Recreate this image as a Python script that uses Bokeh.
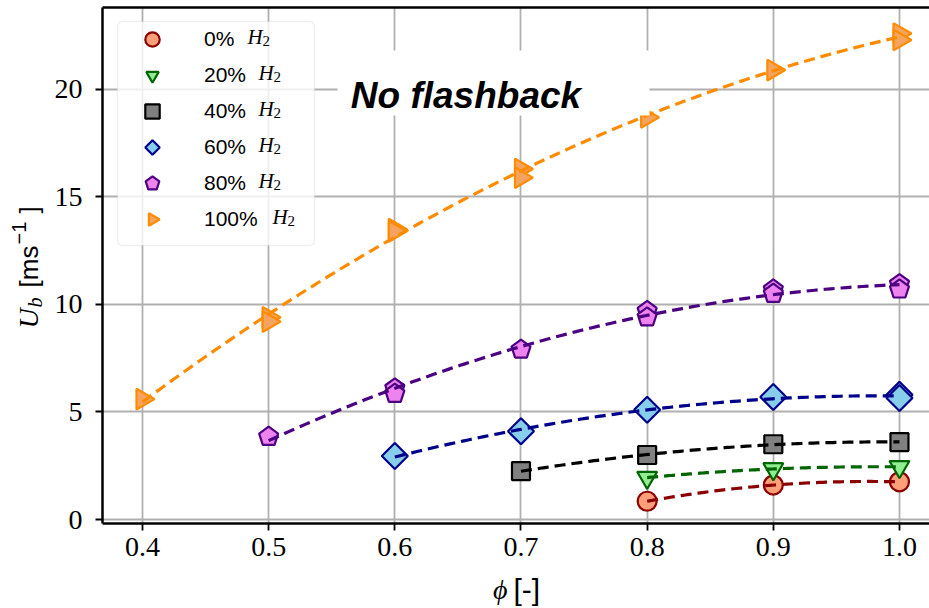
import numpy as np
from bokeh.plotting import figure
from bokeh.layouts import row, column
from bokeh.models import (Range1d, FixedTicker, LinearAxis, Legend, LegendItem,
                          Label, BoxAnnotation)
from bokeh.embed import file_html
from bokeh.resources import INLINE

# ---------------- data ----------------
series_labels = ["0%", "20%", "40%", "60%", "80%", "100%"]
species_symbol = "H"
species_sub = "2"

phi_0 = [0.8, 0.9, 1.0]
ub_0 = [0.85, 1.6, 1.75]

phi_20 = [0.8, 0.9, 1.0]
ub_20 = [1.95, 2.35, 2.45]

phi_40 = [0.7, 0.8, 0.9, 1.0]
ub_40 = [2.25, 3.0, 3.5, 3.6]

phi_60 = [0.6, 0.7, 0.8, 0.9, 1.0, 1.0]
ub_60 = [2.95, 4.1, 5.1, 5.7, 5.8, 5.65]

phi_80 = [0.5, 0.6, 0.6, 0.7, 0.8, 0.8, 0.9, 0.9, 1.0, 1.0]
ub_80 = [3.85, 6.1, 5.85, 7.9, 9.7, 9.4, 10.7, 10.5, 10.95, 10.7]

phi_100 = [0.4, 0.5, 0.5, 0.6, 0.6, 0.7, 0.7, 0.8, 0.9, 1.0, 1.0]
ub_100 = [5.6, 9.4, 9.2, 13.5, 13.4, 16.3, 15.9, 18.7, 20.9, 22.6, 22.3]

x_ticks = [0.4, 0.5, 0.6, 0.7, 0.8, 0.9, 1.0]
x_tick_labels = ["0.4", "0.5", "0.6", "0.7", "0.8", "0.9", "1.0"]
y_ticks = [0, 5, 10, 15, 20]
y_tick_labels = ["0", "5", "10", "15", "20"]

x_label_symbol = "\u03d5"
x_label_unit = "[-]"
y_label_symbol = "U"
y_label_sub = "b"
y_label_unit_open = "[ms"
y_label_unit_sup = "\u22121"
y_label_unit_close = "]"

annotation_text = "No flashback"

SERIF = "Liberation Serif"
SANS = "Liberation Sans"

# ---------------- main figure ----------------
STRIP_W = 46
STRIP_H = 38
MAIN_W = 929 - STRIP_W
MAIN_H = 608 - STRIP_H

p = figure(width=MAIN_W, height=MAIN_H, output_backend="svg", toolbar_location=None,
           x_range=Range1d(0.3683, 1.0238), y_range=Range1d(-0.186, 23.81),
           min_border_left=102 - STRIP_W, min_border_right=0, min_border_top=7,
           min_border_bottom=MAIN_H - 523)
p.outline_line_color = None
p.background_fill_color = "white"
p.border_fill_color = "white"

for ax in (p.xaxis[0], p.yaxis[0]):
    ax.axis_line_width = 2.5
    ax.axis_line_color = "black"
    ax.major_tick_out = 7
    ax.major_tick_in = 0
    ax.major_tick_line_width = 1.8
    ax.major_tick_line_color = "black"
    ax.minor_tick_line_color = None
    ax.major_label_text_font = SERIF
    ax.major_label_text_font_size = "28px"
    ax.major_label_text_color = "black"

p.xaxis.ticker = FixedTicker(ticks=x_ticks)
p.xaxis.major_label_overrides = dict(zip(x_ticks, x_tick_labels))
p.xaxis.major_label_standoff = 7
p.yaxis.ticker = FixedTicker(ticks=y_ticks)
p.yaxis.major_label_overrides = dict(zip(y_ticks, y_tick_labels))
p.yaxis.major_label_standoff = 13

top_spine = LinearAxis(ticker=FixedTicker(ticks=[]), axis_line_width=2.5,
                       axis_line_color="black", major_tick_out=0, major_tick_in=0,
                       minor_tick_line_color=None, major_label_standoff=0,
                       axis_label_standoff=0)
p.add_layout(top_spine, "above")

p.xgrid.grid_line_color = "#b0b0b0"
p.ygrid.grid_line_color = "#b0b0b0"
p.xgrid.grid_line_width = 1.8
p.ygrid.grid_line_width = 1.8

# ---------------- series ----------------
def fit_curve(xs, ys):
    c = np.polyfit(xs, ys, 2)
    xx = np.linspace(min(xs), max(xs), 120)
    return xx, np.polyval(c, xx)

DASH = "11 6"
LW = 3.2
EW = 2.2
renderers = []

def add_series(xs, ys, line_color, r):
    xx, yy = fit_curve(xs, ys)
    p.line(xx, yy, line_color=line_color, line_width=LW, line_dash=DASH)
    renderers.append(r)

def ngon_markers(xs, ys, n, radius, angle, fill, edge):
    return p.ngon(x=xs, y=ys, radius=radius, radius_units="screen", n=n, angle=angle,
                  fill_color=fill, line_color=edge, line_width=EW)

add_series(phi_0, ub_0, "#8B0000",
           p.scatter(phi_0, ub_0, marker="circle", size=19,
                     fill_color="#FFA07A", line_color="#8B0000", line_width=EW))
add_series(phi_20, ub_20, "#006400",
           ngon_markers(phi_20, ub_20, 3, 11.5, np.pi, "#90EE90", "#006400"))
add_series(phi_40, ub_40, "black",
           p.scatter(phi_40, ub_40, marker="square", size=18,
                     fill_color="#808080", line_color="black", line_width=EW))
add_series(phi_60, ub_60, "#00008B",
           ngon_markers(phi_60, ub_60, 4, 13, 0.0, "#87CEEB", "#00008B"))
add_series(phi_80, ub_80, "#4B0082",
           ngon_markers(phi_80, ub_80, 5, 10, 0.0, "#EE82EE", "#4B0082"))
add_series(phi_100, ub_100, "#FF8C00",
           ngon_markers(phi_100, ub_100, 3, 12, -np.pi / 2, "#F4A460", "#FF8C00"))

# ---------------- "No flashback" ----------------
box = BoxAnnotation(left=0.5546, right=0.8019, bottom=18.79, top=21.81,
                    fill_color="white", fill_alpha=1.0, line_color=None)
p.add_layout(box)
p.add_layout(Label(x=0.6564, y=19.72, text=annotation_text, text_align="center",
                   text_baseline="alphabetic", text_font=SANS, text_font_size="37px",
                   text_font_style="bold italic", text_color="black", level="overlay"))

# ---------------- legend ----------------
legend_box = BoxAnnotation(left=0.3802, right=0.5363, bottom=12.74, top=23.16,
                           fill_color="white", fill_alpha=0.8,
                           line_color="#cccccc", line_width=1.5)
if "border_radius" in BoxAnnotation.properties():
    legend_box.border_radius = 5
p.add_layout(legend_box)

legend = Legend(items=[LegendItem(label=lab, renderers=[r])
                       for lab, r in zip(series_labels, renderers)],
                location="top_left", margin=14, padding=4, spacing=0,
                glyph_width=72, glyph_height=36, label_standoff=16, label_width=100,
                label_text_font=SANS, label_text_font_size="21px",
                label_text_color="black",
                background_fill_alpha=0.0, border_line_color=None)
p.add_layout(legend)

h_px = [247, 258, 258, 258, 258, 272]
for i, hx in enumerate(h_px):
    cy = 523 - (36 + 36 * i)
    p.add_layout(Label(x=hx - 102, y=cy, x_units="screen", y_units="screen",
                       text=species_symbol, text_font=SERIF, text_font_style="italic",
                       text_font_size="21px", text_baseline="middle", text_align="left",
                       text_color="black", level="overlay"))
    p.add_layout(Label(x=hx - 102 + 15, y=cy - 4, x_units="screen", y_units="screen",
                       text=species_sub, text_font=SERIF, text_font_size="15px",
                       text_baseline="middle", text_align="left", text_color="black",
                       level="overlay"))

# ---------------- axis-label strips ----------------
def strip(w, h):
    f = figure(width=w, height=h, output_backend="svg", toolbar_location=None,
               x_axis_type=None, y_axis_type=None, min_border=0,
               x_range=Range1d(0, 1), y_range=Range1d(0, 1))
    f.outline_line_color = None
    f.background_fill_color = "white"
    f.border_fill_color = "white"
    return f

ys = strip(STRIP_W, MAIN_H)
ROT = np.pi / 2
FB = 523  # frame bottom shared with the main plot (frames are aligned in a row)

def ylab(x, py, text, font, size, style="normal"):
    ys.add_layout(Label(x=x, y=FB - py, x_units="screen", y_units="screen", angle=ROT,
                        text=text, text_font=font, text_font_style=style,
                        text_font_size=size, text_baseline="alphabetic",
                        text_align="left", text_color="black"))

XS = -9
ylab(37 + XS, 328, y_label_symbol, SERIF, "28px", "italic")
ylab(43 + XS, 307, y_label_sub, SERIF, "20px", "italic")
ylab(37 + XS, 287, y_label_unit_open, SANS, "26px")
ylab(27 + XS, 244, y_label_unit_sup, SANS, "20px")
ylab(37 + XS, 213, y_label_unit_close, SANS, "26px")

xs_strip = strip(929, STRIP_H)
XL_Y = 19
xs_strip.add_layout(Label(x=507, y=XL_Y, x_units="screen", y_units="screen",
                          text=x_label_symbol, text_font=SERIF, text_font_style="italic",
                          text_font_size="28px", text_baseline="alphabetic",
                          text_align="right", text_color="black"))
xs_strip.add_layout(Label(x=513, y=XL_Y, x_units="screen", y_units="screen",
                          text=x_label_unit, text_font=SANS, text_font_size="30px",
                          text_baseline="alphabetic", text_align="left",
                          text_color="black"))

layout = column(row(ys, p, spacing=0), xs_strip, spacing=0)

open("out.html", "w").write(file_html(layout, INLINE))
